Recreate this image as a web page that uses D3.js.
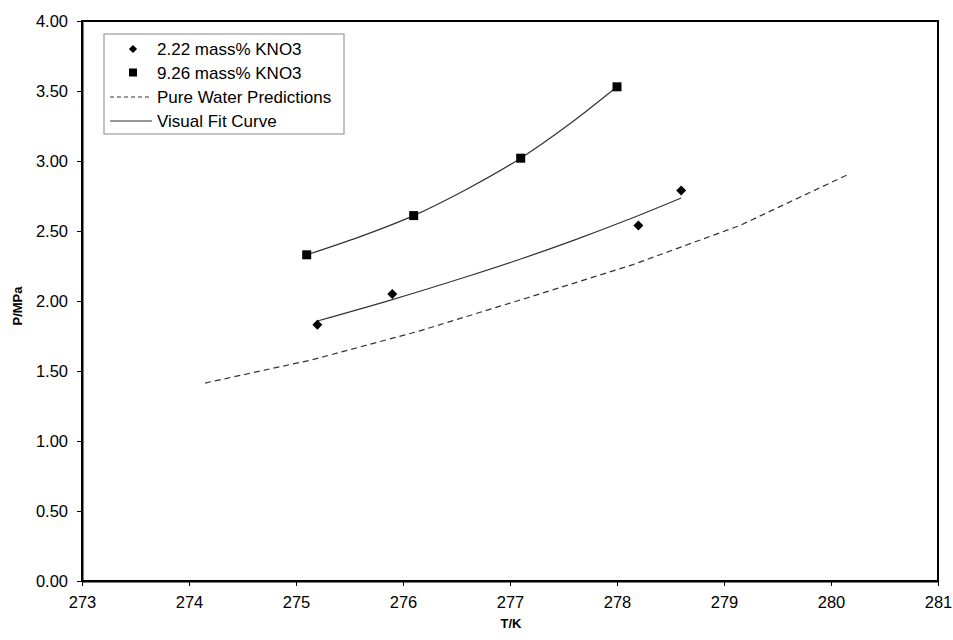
<!DOCTYPE html>
<html>
<head>
<meta charset="utf-8">
<script src="https://cdn.jsdelivr.net/npm/d3@7"></script>
<style>
  body { margin: 0; background: #fff; }
  text { font-family: "Liberation Sans", Arial, sans-serif; fill: #000; }
</style>
</head>
<body>
<div id="chart"></div>
<script>
// data
var lowT = [275.2, 275.9, 278.2, 278.6];        // 2.22 mass% KNO3
var lowP = [1.83, 2.05, 2.54, 2.79];
var highT = [275.1, 276.1, 277.1, 278.0];       // 9.26 mass% KNO3
var highP = [2.33, 2.61, 3.02, 3.53];
var waterT = [274.15, 275.15, 276.15, 277.15, 278.15, 279.15, 280.15];  // pure water predictions
var waterP = [1.414, 1.58, 1.785, 2.02, 2.26, 2.54, 2.90];
var fitLowT = [275.2, 275.9, 276.6, 277.1, 277.6, 278.1, 278.6];
var fitLowP = [1.857, 2.01, 2.175, 2.30, 2.435, 2.58, 2.736];
var fitHighT = [275.1, 275.6, 276.1, 276.6, 277.1, 277.55, 278.0];
var fitHighP = [2.33, 2.46, 2.61, 2.80, 3.02, 3.26, 3.53];
var xTicks = [273, 274, 275, 276, 277, 278, 279, 280, 281];
var yTicks = [0, 0.5, 1, 1.5, 2, 2.5, 3, 3.5, 4];
var legendLabels = ["2.22 mass% KNO3", "9.26 mass% KNO3", "Pure Water Predictions", "Visual Fit Curve"];

var W = 953, H = 640;
var margin = {top: 21, right: 15, bottom: 59, left: 82},
    width = W - margin.left - margin.right,
    height = H - margin.top - margin.bottom;

var svg = d3.select("#chart").append("svg")
    .attr("width", W)
    .attr("height", H);

var g = svg.append("g")
    .attr("transform", "translate(" + margin.left + "," + margin.top + ")");

var x = d3.scaleLinear().domain([273, 281]).range([0, width]);
var y = d3.scaleLinear().domain([0, 4]).range([height, 0]);

function zip(a, b) { return a.map(function(v, i) { return [v, b[i]]; }); }

// frame
g.append("rect")
    .attr("width", width).attr("height", height)
    .attr("fill", "none").attr("stroke", "#000").attr("stroke-width", 2);

// axes
var xAxis = g.append("g")
    .attr("transform", "translate(0," + height + ")")
    .call(d3.axisBottom(x).tickValues(xTicks).tickFormat(d3.format("d")).tickSizeInner(5).tickSizeOuter(0).tickPadding(10));
var yAxis = g.append("g")
    .call(d3.axisLeft(y).tickValues(yTicks).tickFormat(d3.format(".2f")).tickSizeInner(5).tickSizeOuter(0).tickPadding(9));
[xAxis, yAxis].forEach(function(a) {
    a.select(".domain").attr("stroke", "#000").attr("stroke-width", 2);
    a.selectAll(".tick line").attr("stroke", "#000");
    a.selectAll(".tick text").attr("font-size", 16.5).attr("font-family", "Liberation Sans, Arial, sans-serif");
});

// axis titles
svg.append("text")
    .attr("x", 511).attr("y", 628)
    .attr("text-anchor", "middle")
    .attr("font-size", 13).attr("font-weight", "bold")
    .text("T/K");
svg.append("text")
    .attr("transform", "translate(22,306) rotate(-90)")
    .attr("text-anchor", "middle")
    .attr("font-size", 13).attr("font-weight", "bold")
    .text("P/MPa");

var line = d3.line().x(function(d) { return x(d[0]); }).y(function(d) { return y(d[1]); });
var smooth = d3.line().curve(d3.curveCatmullRom).x(function(d) { return x(d[0]); }).y(function(d) { return y(d[1]); });

// pure water predictions
g.append("path")
    .attr("d", line(zip(waterT, waterP)))
    .attr("fill", "none").attr("stroke", "#333").attr("stroke-width", 1.2)
    .attr("stroke-dasharray", "6,4");

// visual fit curves
g.append("path")
    .attr("d", smooth(zip(fitLowT, fitLowP)))
    .attr("fill", "none").attr("stroke", "#333").attr("stroke-width", 1.2);
g.append("path")
    .attr("d", smooth(zip(fitHighT, fitHighP)))
    .attr("fill", "none").attr("stroke", "#333").attr("stroke-width", 1.2);

// markers
var diamond = d3.symbol().type(d3.symbolSquare).size(50);
g.selectAll(".dia")
    .data(zip(lowT, lowP))
    .enter().append("path")
    .attr("class", "dia")
    .attr("d", diamond)
    .attr("transform", function(d) { return "translate(" + x(d[0]) + "," + y(d[1]) + ") rotate(45)"; })
    .attr("fill", "#000");
g.selectAll(".sq")
    .data(zip(highT, highP))
    .enter().append("rect")
    .attr("class", "sq")
    .attr("x", function(d) { return x(d[0]) - 4.5; })
    .attr("y", function(d) { return y(d[1]) - 4.5; })
    .attr("width", 9).attr("height", 9)
    .attr("fill", "#000");

// legend
var leg = svg.append("g").attr("transform", "translate(104,34)");
leg.append("rect")
    .attr("width", 240).attr("height", 100)
    .attr("fill", "#fff").attr("stroke", "#888").attr("stroke-width", 1);
var rows = leg.selectAll(".row")
    .data(legendLabels)
    .enter().append("g")
    .attr("transform", function(d, i) { return "translate(0," + (15 + i * 24) + ")"; });
rows.append("text")
    .attr("x", 53).attr("y", 6)
    .attr("font-size", 17)
    .text(function(d) { return d; });
leg.append("path")
    .attr("d", d3.symbol().type(d3.symbolSquare).size(34)())
    .attr("transform", "translate(29,15) rotate(45)")
    .attr("fill", "#000");
leg.append("rect")
    .attr("x", 25).attr("y", 34.5).attr("width", 8).attr("height", 8)
    .attr("fill", "#000");
leg.append("line")
    .attr("x1", 6).attr("x2", 48).attr("y1", 63).attr("y2", 63)
    .attr("stroke", "#333").attr("stroke-dasharray", "4,3");
leg.append("line")
    .attr("x1", 6).attr("x2", 48).attr("y1", 87).attr("y2", 87)
    .attr("stroke", "#333");
</script>
</body>
</html>
